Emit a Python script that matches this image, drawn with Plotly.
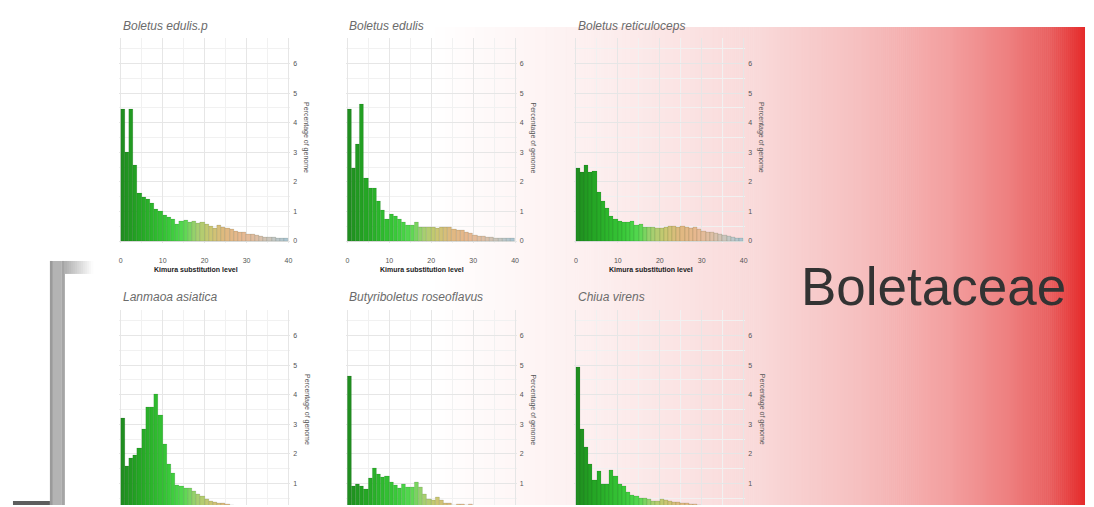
import plotly.graph_objects as go

W, H = 1094, 507

# ---------------- data ----------------
kimura_bins = list(range(40))          # left edge of each 1-unit Kimura bin
x_ticks = [0, 10, 20, 30, 40]
y_ticks = [0, 1, 2, 3, 4, 5, 6]

species = ["Boletus edulis.p", "Boletus edulis", "Boletus reticuloceps",
           "Lanmaoa asiatica", "Butyriboletus roseoflavus", "Chiua virens"]

boletus_edulis_p = [4.44, 2.98, 4.44, 2.56, 1.61, 1.49, 1.40, 1.27, 1.07, 1.01,
                    0.87, 0.79, 0.73, 0.56, 0.67, 0.71, 0.64, 0.67, 0.60, 0.64,
                    0.56, 0.51, 0.42, 0.53, 0.45, 0.44, 0.39, 0.34, 0.28, 0.28,
                    0.22, 0.22, 0.19, 0.17, 0.13, 0.12, 0.11, 0.10, 0.10, 0.10]
boletus_edulis = [4.44, 2.47, 3.26, 4.61, 2.11, 1.78, 1.78, 1.33, 1.04, 0.73,
                  0.90, 0.82, 0.73, 0.62, 0.53, 0.53, 0.62, 0.47, 0.47, 0.47,
                  0.45, 0.44, 0.47, 0.47, 0.45, 0.39, 0.36, 0.36, 0.30, 0.25,
                  0.20, 0.17, 0.15, 0.13, 0.11, 0.10, 0.09, 0.08, 0.08, 0.08]
boletus_reticuloceps = [2.47, 2.33, 2.56, 2.33, 2.36, 1.63, 1.33, 1.10, 0.84, 0.73,
                        0.67, 0.64, 0.64, 0.65, 0.53, 0.56, 0.45, 0.47, 0.45, 0.43,
                        0.42, 0.45, 0.51, 0.48, 0.45, 0.51, 0.45, 0.42, 0.47, 0.39,
                        0.34, 0.30, 0.28, 0.25, 0.22, 0.19, 0.15, 0.11, 0.10, 0.10]
lanmaoa_asiatica = [3.21, 1.56, 1.84, 1.96, 2.20, 2.82, 3.58, 3.58, 4.00, 3.30,
                    2.31, 1.64, 1.34, 0.94, 0.89, 0.83, 0.85, 0.72, 0.63, 0.55,
                    0.47, 0.40, 0.36, 0.34, 0.31, 0.28, 0.25, 0.22, 0.20, 0.18,
                    0.16, 0.15, 0.13, 0.12, 0.11, 0.10, 0.09, 0.08, 0.08, 0.07]
butyriboletus_roseoflavus = [4.63, 0.90, 0.98, 0.90, 0.79, 1.18, 1.51, 1.31, 1.20, 1.24,
                             1.03, 0.94, 0.83, 0.98, 0.87, 0.87, 1.03, 0.87, 0.64, 0.47,
                             0.42, 0.53, 0.42, 0.34, 0.34, 0.27, 0.30, 0.28, 0.26, 0.29,
                             0.22, 0.20, 0.18, 0.16, 0.14, 0.12, 0.10, 0.09, 0.08, 0.07]
chiua_virens = [4.92, 2.83, 2.21, 1.63, 1.09, 1.41, 0.98, 0.98, 1.43, 1.23,
                0.98, 0.89, 0.70, 0.59, 0.56, 0.51, 0.51, 0.45, 0.40, 0.40,
                0.45, 0.42, 0.40, 0.37, 0.37, 0.34, 0.31, 0.30, 0.28, 0.26,
                0.24, 0.22, 0.20, 0.18, 0.16, 0.14, 0.12, 0.10, 0.09, 0.08]

series = [boletus_edulis_p, boletus_edulis, boletus_reticuloceps,
          lanmaoa_asiatica, butyriboletus_roseoflavus, chiua_virens]

family_label = "Boletaceae"
x_title = "Kimura substitution level"
y_title = "Percentage of genome"

# ---------------- styling ----------------
FONT = "Liberation Sans, Arial, sans-serif"

bar_stops = [(0, (31, 139, 31)), (4, (36, 163, 36)), (8, (45, 184, 45)),
             (12, (60, 203, 60)), (15, (85, 216, 80)), (18, (160, 208, 112)),
             (21, (200, 200, 112)), (25, (224, 184, 128)), (29, (232, 184, 144)),
             (33, (221, 192, 168)), (37, (192, 200, 200)), (40, (168, 196, 212))]


def interp(stops, v):
    for (a, ca), (b, cb) in zip(stops[:-1], stops[1:]):
        if a <= v <= b:
            t = (v - a) / (b - a) if b > a else 0
            return tuple(int(round(ca[i] + (cb[i] - ca[i]) * t)) for i in range(3))
    return stops[-1][1] if v > stops[-1][0] else stops[0][1]


bar_colors = ["rgb(%d,%d,%d)" % interp(bar_stops, b + 0.5) for b in kimura_bins]

col_x0 = [121, 348, 577]     # pixel of Kimura 0 per column
row_zero = [242, 515]        # pixel of 0 % per row
PX_X = 4.2
PX_Y = 29.7
X_RANGE = [-0.4, 40.4]
Y_TOP = 6.85

fig = go.Figure()
annotations = []
layout_axes = {}

for i, (name, vals) in enumerate(zip(species, series)):
    r, c = divmod(i, 3)
    x0 = col_x0[c]
    z = row_zero[r]
    xl = x0 + X_RANGE[0] * PX_X
    xr = x0 + X_RANGE[1] * PX_X
    top_px = z - Y_TOP * PX_Y
    if r == 0:
        y_lo = -0.05
    else:
        y_lo = (z - H) / PX_Y
    bot_px = z - y_lo * PX_Y
    n = i + 1
    xa = "x" if n == 1 else "x%d" % n
    ya = "y" if n == 1 else "y%d" % n
    fig.add_trace(go.Bar(
        x=[b + 0.5 for b in kimura_bins], y=vals, width=1.0,
        marker=dict(color=bar_colors, line=dict(width=0.6, color="rgba(0,40,0,0.18)")),
        xaxis=xa, yaxis=ya, showlegend=False, hoverinfo="x+y"))
    grid_major = "#e6e6e6"
    grid_minor = "#f1f1f1"
    layout_axes["xaxis" if n == 1 else "xaxis%d" % n] = dict(
        domain=[xl / W, xr / W], range=X_RANGE, anchor=ya,
        tickvals=x_ticks, showgrid=True, gridcolor=grid_major, gridwidth=1,
        minor=dict(dtick=5, tick0=5, showgrid=True, gridcolor=grid_minor, gridwidth=1),
        zeroline=False, showline=False, ticks="", ticklabelstandoff=12,
        showticklabels=(r == 0),
        tickfont=dict(size=7, color="#555555", family=FONT), fixedrange=True)
    layout_axes["yaxis" if n == 1 else "yaxis%d" % n] = dict(
        domain=[max(0, 1 - bot_px / H), 1 - top_px / H], range=[y_lo, Y_TOP],
        anchor=xa, side="right", tickvals=y_ticks, showgrid=True,
        gridcolor=grid_major, gridwidth=1,
        minor=dict(dtick=0.5, showgrid=True, gridcolor=grid_minor, gridwidth=1),
        zeroline=False, showline=False, ticks="", ticklabelstandoff=2,
        tickfont=dict(size=7, color="#555555", family=FONT), fixedrange=True)
    # panel title
    title_y = [26, 298][r]
    annotations.append(dict(
        xref="paper", yref="paper", x=x0 / W, y=1 - title_y / H,
        xanchor="left", yanchor="middle", showarrow=False,
        text="<i>%s</i>" % name, font=dict(size=12, color="#6b6b6b", family=FONT)))
    # y title (rotated, reading top-to-bottom)
    annotations.append(dict(
        xref="paper", yref="paper", x=(x0 + 186) / W, y=1 - (z - 3.5 * PX_Y) / H,
        xanchor="center", yanchor="middle", showarrow=False, textangle=90,
        text=y_title, font=dict(size=7, color="#555555", family=FONT)))
    # x title
    if r == 0:
        annotations.append(dict(
            xref="paper", yref="paper", x=(x0 + 75) / W, y=1 - 271 / H,
            xanchor="center", yanchor="middle", showarrow=False,
            text="<b>%s</b>" % x_title, font=dict(size=7, color="#222222", family=FONT)))

annotations.append(dict(
    xref="paper", yref="paper", x=935 / W, y=1 - 288 / H,
    xanchor="center", yanchor="middle", showarrow=False, text=family_label,
    font=dict(size=53, color="#333333",
              family="Liberation Sans Narrow, Arial Narrow, Liberation Sans, Arial, sans-serif")))

# ---------------- background gradient & bracket ----------------
shapes = []
bg_stops = [(430, (255, 255, 255)), (520, (254, 246, 246)), (620, (252, 236, 236)),
            (760, (249, 217, 217)), (860, (246, 192, 192)), (950, (243, 160, 160)),
            (1010, (238, 128, 128)), (1050, (233, 98, 98)), (1087, (229, 40, 40))]
GX0, GX1, GY0 = 430, 1087, 27
nstrip = 330
step = (GX1 - GX0) / nstrip
for k in range(nstrip):
    a = GX0 + k * step
    b = a + step + 0.6
    col = "rgb(%d,%d,%d)" % interp(bg_stops, a + step / 2)
    shapes.append(dict(type="rect", xref="paper", yref="paper", layer="below",
                       x0=a / W, x1=min(b, GX1) / W, y0=0, y1=1 - GY0 / H,
                       fillcolor=col, line=dict(width=0)))

# bracket: vertical bar with slight shading
vbar = [(50, 53, "#9a9a9a"), (53, 62, "#b3b3b3"), (62, 65, "#a5a5a5")]
for a, b, colr in vbar:
    shapes.append(dict(type="rect", xref="paper", yref="paper", layer="below",
                       x0=a / W, x1=b / W, y0=0, y1=1 - 262 / H,
                       fillcolor=colr, line=dict(width=0)))
# top arm fading to white
ntop = 14
for k in range(ntop):
    a = 65 + k * (28 / ntop)
    b = a + 28 / ntop + 0.5
    g = int(178 + (252 - 178) * k / (ntop - 1))
    shapes.append(dict(type="rect", xref="paper", yref="paper", layer="below",
                       x0=a / W, x1=b / W, y0=1 - 275 / H, y1=1 - 262 / H,
                       fillcolor="rgb(%d,%d,%d)" % (g, g, g), line=dict(width=0)))
# bottom arm
shapes.append(dict(type="rect", xref="paper", yref="paper", layer="below",
                   x0=13 / W, x1=50 / W, y0=0, y1=1 - 503 / H,
                   fillcolor="#5e5e5e", line=dict(width=0)))

fig.update_layout(
    width=W, height=H, margin=dict(l=0, r=0, t=0, b=0),
    paper_bgcolor="white", plot_bgcolor="rgba(0,0,0,0)",
    font=dict(family=FONT), bargap=0, showlegend=False,
    annotations=annotations, shapes=shapes, **layout_axes)

fig.write_html(
    "out.html",
    config={"displayModeBar": False},
    post_script=("document.body.style.margin='0px';"
                 "document.documentElement.style.overflow='hidden';"
                 "document.body.style.overflow='hidden';"))
